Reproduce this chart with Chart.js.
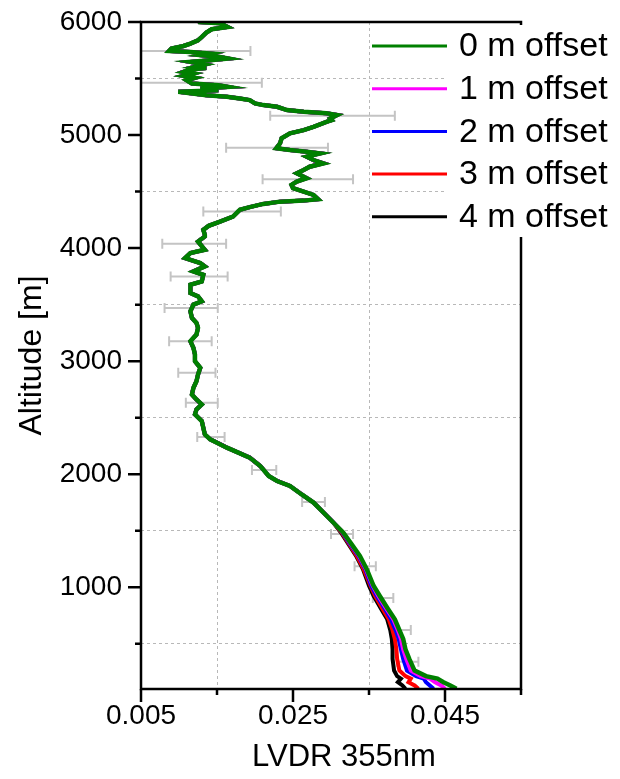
<!DOCTYPE html>
<html lang="en">
<head>
    <meta charset="UTF-8">
    <title>LVDR profile</title>
    <script src="https://cdn.jsdelivr.net/npm/chart.js"></script>
    <style>
        body { margin: 0; background: #fff; }
        #wrap { width: 620px; height: 779px; position: relative; }
    </style>
</head>
<body>
    <div id="wrap"><canvas id="lvdrChart"></canvas></div>

    <script>
        // upper part of the profile, all offsets overlap here
        const upperAlt = [6000, 5990, 5956, 5936, 5906, 5868, 5838, 5809, 5788, 5765, 5744, 5735, 5721, 5706, 5691, 5677,
            5662, 5647, 5624, 5603, 5594, 5580, 5559, 5545, 5523, 5506, 5485, 5456, 5441, 5426, 5412, 5397, 5382, 5353,
            5338, 5324, 5309, 5280, 5265, 5250, 5221, 5206, 5192, 5177, 5147, 5132, 5117, 5073, 5044, 5015, 4971, 4927,
            4883, 4868, 4853, 4838, 4809, 4779, 4750, 4720, 4691, 4662, 4618, 4588, 4559, 4530, 4500, 4470, 4433, 4420,
            4411, 4391, 4362, 4338, 4279, 4235, 4197, 4162, 4117, 4103, 4058, 3985, 3956, 3912, 3868, 3838, 3794, 3764,
            3705, 3676, 3603, 3573, 3529, 3500, 3441, 3382, 3338, 3294, 3235, 3176, 3117, 3058, 2999, 2941, 2882, 2823,
            2764, 2705, 2661, 2617, 2573, 2529, 2470, 2411, 2352, 2308, 2279, 2235, 2191, 2147, 2072, 1984, 1940, 1896,
            1823, 1749, 1661, 1573];
        const upperLvdr = [0.0125, 0.0154, 0.0164, 0.0143, 0.0136, 0.0130, 0.0125, 0.0115, 0.0106, 0.0090, 0.0087, 0.0115,
            0.0141, 0.0130, 0.0154, 0.0165, 0.0141, 0.0115, 0.0134, 0.0121, 0.0136, 0.0115, 0.0106, 0.0119, 0.0106, 0.0121,
            0.0110, 0.0117, 0.0152, 0.0165, 0.0128, 0.0152, 0.0099, 0.0136, 0.0163, 0.0180, 0.0193, 0.0200, 0.0211, 0.0229,
            0.0242, 0.0264, 0.0294, 0.0308, 0.0299, 0.0301, 0.0294, 0.0277, 0.0264, 0.0246, 0.0235, 0.0233, 0.0228, 0.0246,
            0.0268, 0.0286, 0.0268, 0.0277, 0.0290, 0.0272, 0.0264, 0.0255, 0.0268, 0.0255, 0.0248, 0.0250, 0.0264, 0.0277,
            0.0283, 0.0264, 0.0233, 0.0211, 0.0193, 0.0180, 0.0171, 0.0154, 0.0139, 0.0132, 0.0134, 0.0134, 0.0125, 0.0134,
            0.0115, 0.0108, 0.0128, 0.0134, 0.0119, 0.0132, 0.0130, 0.0115, 0.0115, 0.0125, 0.0130, 0.0119, 0.0115, 0.0117,
            0.0123, 0.0125, 0.0123, 0.0115, 0.0119, 0.0121, 0.0121, 0.0128, 0.0125, 0.0123, 0.0119, 0.0117, 0.0123, 0.0130,
            0.0123, 0.0121, 0.0130, 0.0132, 0.0134, 0.0141, 0.0150, 0.0163, 0.0178, 0.0193, 0.0207, 0.0218, 0.0229, 0.0246,
            0.0261, 0.0277, 0.0290, 0.0303];

        // lower part, where the offsets separate
        const lowerAlt = [1485, 1382, 1278, 1160, 1013, 925, 808, 716, 620, 543, 450, 366, 263, 214, 192, 160, 131, 102];
        const lvdr0m = [0.0316, 0.0327, 0.0338, 0.0347, 0.0356, 0.0364, 0.0375, 0.0384, 0.0390, 0.0395, 0.0398, 0.0403, 0.0410, 0.0425, 0.0440, 0.0448, 0.0457, 0.0465];
        const lvdr1m = [0.0316, 0.0326, 0.0337, 0.0346, 0.0355, 0.0362, 0.0373, 0.0382, 0.0388, 0.0392, 0.0395, 0.0399, 0.0405, 0.0418, 0.0430, 0.0437, 0.0445, 0.0450];
        const lvdr2m = [0.0315, 0.0325, 0.0336, 0.0345, 0.0353, 0.0360, 0.0371, 0.0379, 0.0385, 0.0389, 0.0392, 0.0395, 0.0400, 0.0412, 0.0422, 0.0425, 0.0430, 0.0435];
        const lvdr3m = [0.0314, 0.0324, 0.0334, 0.0343, 0.0352, 0.0358, 0.0368, 0.0376, 0.0381, 0.0384, 0.0386, 0.0387, 0.0390, 0.0398, 0.0405, 0.0402, 0.0410, 0.0415];
        const lvdr4m = [0.0313, 0.0323, 0.0333, 0.0342, 0.0350, 0.0356, 0.0366, 0.0374, 0.0378, 0.0380, 0.0381, 0.0381, 0.0383, 0.0387, 0.0392, 0.0388, 0.0394, 0.0398];

        const seriesNames = ['0 m offset', '1 m offset', '2 m offset', '3 m offset', '4 m offset'];
        const seriesColors = ['#008000', '#ff00ff', '#0000ff', '#ff0000', '#000000'];
        const lowerSeries = [lvdr0m, lvdr1m, lvdr2m, lvdr3m, lvdr4m];

        // error bars (altitude, left end, right end)
        const errAlt = [5744, 5462, 5170, 4888, 4609, 4323, 4038, 3749, 3470, 3176, 2897, 2632, 2328, 2037, 1755, 1470, 1185, 905, 622, 342];
        const errLow = [0.0050, 0.0050, 0.0220, 0.0162, 0.0210, 0.0132, 0.0078, 0.0089, 0.0081, 0.0087, 0.0099, 0.0109, 0.0124, 0.0196, 0.0262, 0.0300, 0.0331, 0.0355, 0.0379, 0.0387];
        const errHigh = [0.0194, 0.0209, 0.0384, 0.0296, 0.0329, 0.0234, 0.0162, 0.0164, 0.0151, 0.0143, 0.0148, 0.0151, 0.0160, 0.0228, 0.0292, 0.0329, 0.0359, 0.0382, 0.0405, 0.0415];

        const xTickVals = [0.005, 0.015, 0.025, 0.035, 0.045, 0.055];
        const xTickLabels = ['0.005', '', '0.025', '', '0.045', ''];
        const yTickVals = [500, 1000, 1500, 2000, 2500, 3000, 3500, 4000, 4500, 5000, 5500, 6000];
        const yTickLabels = ['', '1000', '', '2000', '', '3000', '', '4000', '', '5000', '', '6000'];
        const xTitle = 'LVDR 355nm';

        const FONT = "'Liberation Sans', Arial, sans-serif";

        const datasets = seriesNames.map((name, s) => {
            const pts = upperAlt.map((a, i) => ({ x: upperLvdr[i], y: a }))
                .concat(lowerAlt.map((a, i) => ({ x: lowerSeries[s][i], y: a })));
            return {
                label: name,
                data: pts,
                showLine: true,
                borderColor: seriesColors[s],
                backgroundColor: seriesColors[s],
                borderWidth: s === 0 ? 4.5 : 4,
                pointRadius: 0,
                tension: 0
            };
        });

        const profilePlugin = {
            id: 'profileExtras',
            beforeDatasetsDraw(chart) {
                const { ctx, chartArea: ca, scales: { x, y } } = chart;
                ctx.save();
                ctx.beginPath();
                ctx.rect(ca.left, ca.top, ca.right - ca.left, ca.bottom - ca.top);
                ctx.clip();
                ctx.strokeStyle = '#c4c4c4';
                ctx.lineWidth = 2;
                errAlt.forEach((a, i) => {
                    const py = y.getPixelForValue(a);
                    const x1 = x.getPixelForValue(errLow[i]);
                    const x2 = x.getPixelForValue(errHigh[i]);
                    ctx.beginPath();
                    ctx.moveTo(x1, py); ctx.lineTo(x2, py);
                    ctx.moveTo(x1, py - 5); ctx.lineTo(x1, py + 5);
                    ctx.moveTo(x2, py - 5); ctx.lineTo(x2, py + 5);
                    ctx.stroke();
                });
                ctx.restore();
            },
            afterDraw(chart) {
                const { ctx, chartArea: ca, scales: { x, y } } = chart;
                ctx.save();
                ctx.strokeStyle = '#000';
                ctx.lineWidth = 2.5;
                ctx.strokeRect(ca.left, ca.top, ca.right - ca.left, ca.bottom - ca.top);

                // tick marks
                ctx.beginPath();
                yTickVals.forEach((v, i) => {
                    const py = y.getPixelForValue(v);
                    const len = yTickLabels[i] ? 13 : 6;
                    ctx.moveTo(ca.left - len, py); ctx.lineTo(ca.left, py);
                });
                xTickVals.forEach((v, i) => {
                    const px = x.getPixelForValue(v);
                    const len = xTickLabels[i] ? 13 : 6;
                    ctx.moveTo(px, ca.bottom); ctx.lineTo(px, ca.bottom + len);
                });
                ctx.stroke();

                // x axis title sits a little right of the plot centre
                ctx.fillStyle = '#000';
                ctx.font = '31px ' + FONT;
                ctx.textAlign = 'center';
                ctx.textBaseline = 'middle';
                ctx.fillText(xTitle, 344, 757);

                // legend
                ctx.fillStyle = '#fff';
                ctx.fillRect(447, ca.top + 3, 173, 212);
                ctx.font = '34px ' + FONT;
                ctx.textBaseline = 'middle';
                ctx.textAlign = 'left';
                seriesNames.forEach((name, i) => {
                    const cy = 46 + i * 42.7;
                    ctx.strokeStyle = seriesColors[i];
                    ctx.lineWidth = 3;
                    ctx.beginPath();
                    ctx.moveTo(372, cy); ctx.lineTo(447, cy);
                    ctx.stroke();
                    ctx.fillStyle = '#000';
                    ctx.fillText(name, 459, cy + 1);
                });
                ctx.restore();
            }
        };

        new Chart(document.getElementById('lvdrChart'), {
            type: 'scatter',
            data: { datasets: datasets },
            options: {
                responsive: true,
                maintainAspectRatio: false,
                animation: false,
                layout: { padding: { top: 22, right: 99, left: 0, bottom: 0 } },
                plugins: { legend: { display: false }, tooltip: { enabled: false } },
                scales: {
                    x: {
                        type: 'linear',
                        min: 0.005,
                        max: 0.055,
                        afterBuildTicks: (scale) => { scale.ticks = xTickVals.map(v => ({ value: v })); },
                        afterFit: (scale) => {
                            scale.height = 90;
                            scale.paddingLeft = 0;
                            scale.paddingRight = 0;
                        },
                        ticks: {
                            autoSkip: false,
                            maxRotation: 0,
                            padding: 10,
                            color: '#000',
                            font: { family: FONT, size: 28 },
                            callback: (v, i) => xTickLabels[i]
                        },
                        grid: {
                            drawTicks: false,
                            color: (c) => (c.tick && xTickLabels[c.index] === '' ? '#b8b8b8' : 'rgba(0,0,0,0)'),
                            lineWidth: 1
                        },
                        border: { display: false, dash: [3, 3] }
                    },
                    y: {
                        type: 'linear',
                        min: 100,
                        max: 6000,
                        afterBuildTicks: (scale) => { scale.ticks = yTickVals.map(v => ({ value: v })); },
                        afterFit: (scale) => {
                            scale.width = 141;
                            scale.paddingTop = 0;
                            scale.paddingBottom = 0;
                        },
                        ticks: {
                            autoSkip: false,
                            padding: 19,
                            color: '#000',
                            font: { family: FONT, size: 28 },
                            callback: (v, i) => yTickLabels[i]
                        },
                        grid: {
                            drawTicks: false,
                            color: (c) => (c.tick && yTickLabels[c.index] === '' ? '#b8b8b8' : 'rgba(0,0,0,0)'),
                            lineWidth: 1
                        },
                        border: { display: false, dash: [3, 3] },
                        title: {
                            display: true,
                            text: 'Altitude [m]',
                            color: '#000',
                            font: { family: FONT, size: 32 },
                            padding: { top: 13, bottom: 0 }
                        }
                    }
                }
            },
            plugins: [profilePlugin]
        });
    </script>
</body>
</html>
